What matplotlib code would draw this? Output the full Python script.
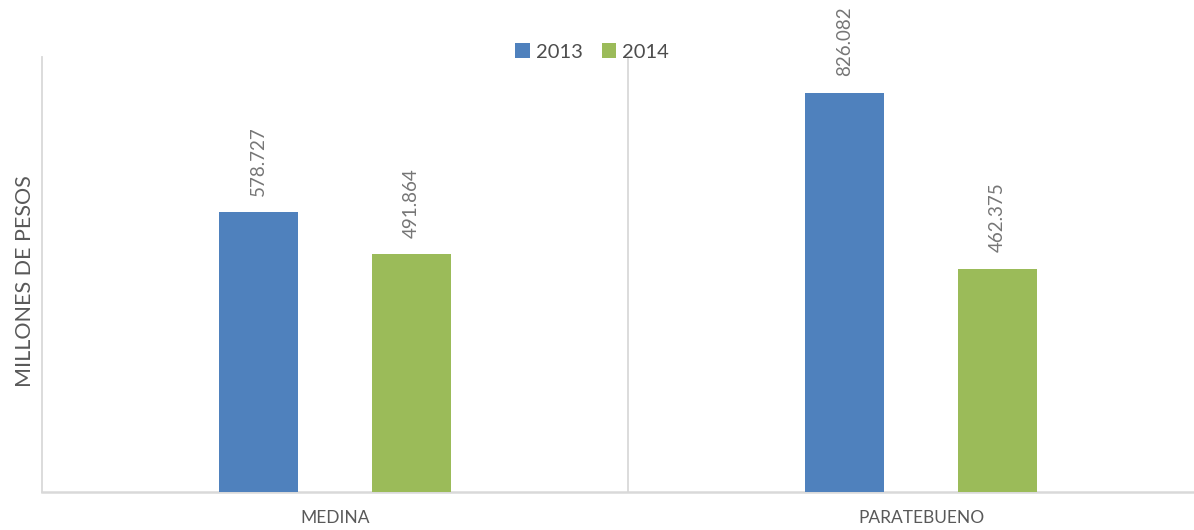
import matplotlib
matplotlib.use("Agg")
import matplotlib.pyplot as plt
import numpy as np

categories = ["MEDINA", "PARATEBUENO"]
series_names = ["2013", "2014"]
values_2013 = [578.727, 826.082]
values_2014 = [491.864, 462.375]
label_2013 = ["578.727", "826.082"]
label_2014 = ["491.864", "462.375"]
y_label = "MILLONES DE PESOS"

plt.rcParams['font.family'] = ['Lato', 'DejaVu Sans']

fig = plt.figure(figsize=(11.94, 5.30), dpi=100)
ax = fig.add_axes([42/1194, 38/530, 1172/1194, 435/530])

x = np.arange(len(categories))
w = 0.135
off = 0.13
c1, c2 = '#4F81BD', '#9BBB59'
b1 = ax.bar(x - off, values_2013, w, color=c1, label=series_names[0], zorder=3)
b2 = ax.bar(x + off, values_2014, w, color=c2, label=series_names[1], zorder=3)

for bars, labs in ((b1, label_2013), (b2, label_2014)):
    for rect, lab in zip(bars, labs):
        ax.annotate(lab, (rect.get_x() + rect.get_width()/2, rect.get_height()),
                    xytext=(0, 12), textcoords='offset points', rotation=90,
                    ha='center', va='bottom', fontsize=13.5, color='#767676')

ax.set_xlim(-0.5, 1.5)
ax.set_ylim(0, 900)
ax.axvline(0.5, color='#D9D9D9', lw=1.3, zorder=1)

for s in ('top', 'right'):
    ax.spines[s].set_visible(False)
ax.spines['left'].set_color('#D9D9D9')
ax.spines['left'].set_linewidth(1.3)
ax.spines['bottom'].set_color('#D9D9D9')
ax.spines['bottom'].set_linewidth(1.8)

ax.set_yticks([])
ax.set_xticks(x)
ax.set_xticklabels(categories, fontsize=12.5, color='#595959')
ax.tick_params(axis='x', length=0, pad=13)

fig.text(25/1194, 1 - 281/530, y_label, rotation=90, ha='center', va='center',
         fontsize=15.5, color='#595959')

fig.legend(handles=[b1, b2], labels=series_names, loc='center',
           bbox_to_anchor=(592/1194, 1 - 52/530), ncol=2, frameon=False,
           fontsize=14.5, labelcolor='#4D4D4D', handlelength=0.7, handleheight=0.7,
           handletextpad=0.3, columnspacing=0.95)

fig.savefig('out.png', dpi=100)
